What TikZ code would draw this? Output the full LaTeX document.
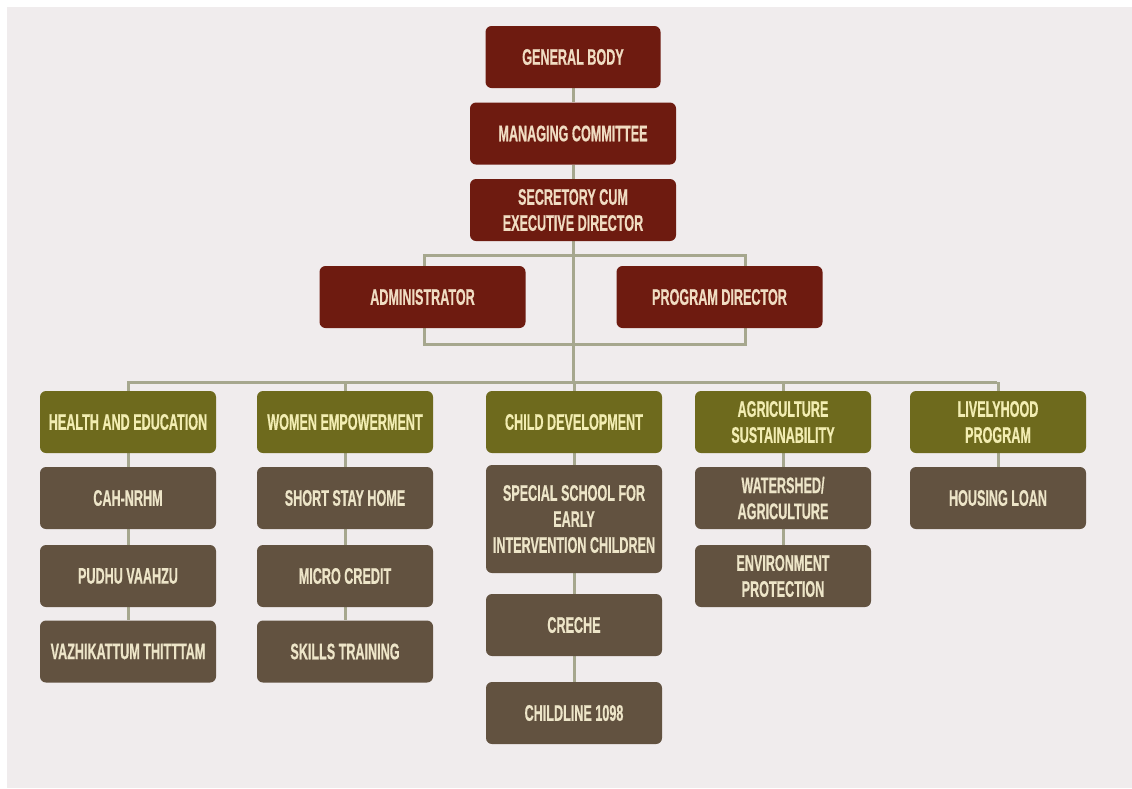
\documentclass[tikz,border=0pt]{standalone}
\usepackage{fontspec}
\usetikzlibrary{backgrounds}
\newfontfamily\orgfont{Liberation Sans}[FakeStretch=0.56, BoldFeatures={FakeBold=0.6}]
\definecolor{bgcol}{HTML}{F0ECED}
\definecolor{orgred}{HTML}{6E1B10}
\definecolor{orgolive}{HTML}{6E6A1D}
\definecolor{orgbrown}{HTML}{625240}
\definecolor{redtext}{HTML}{F0DCC2}
\definecolor{olivetext}{HTML}{F2EDB2}
\definecolor{browntext}{HTML}{EDE5C8}
\definecolor{linkcol}{HTML}{A6A78E}

\begin{document}
\begin{tikzpicture}[x=1pt, y=-1pt]
\tikzset{box/.style = {rounded corners=6pt, minimum height=62pt, inner sep=0pt, align=center, font=\orgfont\bfseries\fontsize{22.5}{26}\selectfont}}
\tikzset{redbox/.style = {box, fill=orgred, text=redtext, minimum width=206pt}}
\tikzset{olivebox/.style = {box, fill=orgolive, text=olivetext, minimum width=176pt}}
\tikzset{brownbox/.style = {box, fill=orgbrown, text=browntext, minimum width=176pt}}
\tikzset{edge/.style = {draw=linkcol, line width=3pt}}
\useasboundingbox (0,0) rectangle (1132,788);

% top of the chart
\node[redbox, minimum width=175pt] (gb) at (573,57) {GENERAL BODY};
\node[redbox] (mc) at (573,133.5) {MANAGING COMMITTEE};
\node[redbox] (sec) at (573,210) {SECRETORY CUM\\EXECUTIVE DIRECTOR};
\node[redbox] (adm) at (422.5,297) {ADMINISTRATOR};
\node[redbox] (pd) at (719.5,297) {PROGRAM DIRECTOR};

% programs
\node[olivebox] (health) at (128,422) {HEALTH AND EDUCATION};
\node[olivebox] (women) at (345,422) {WOMEN EMPOWERMENT};
\node[olivebox] (child) at (574,422) {CHILD DEVELOPMENT};
\node[olivebox] (agri) at (783,422) {AGRICULTURE\\SUSTAINABILITY};
\node[olivebox] (live) at (998,422) {LIVELYHOOD\\PROGRAM};

% projects
\node[brownbox] (cah) at (128,498) {CAH-NRHM};
\node[brownbox] (pudhu) at (128,576) {PUDHU VAAHZU};
\node[brownbox] (vazhi) at (128,651.5) {VAZHIKATTUM THITTTAM};
\node[brownbox] (stay) at (345,498) {SHORT STAY HOME};
\node[brownbox] (micro) at (345,576) {MICRO CREDIT};
\node[brownbox] (skills) at (345,651.5) {SKILLS TRAINING};
\node[brownbox, minimum height=108pt] (school) at (574,519) {SPECIAL SCHOOL FOR\\EARLY\\INTERVENTION CHILDREN};
\node[brownbox] (creche) at (574,625) {CRECHE};
\node[brownbox] (childline) at (574,713) {CHILDLINE 1098};
\node[brownbox] (water) at (783,498) {WATERSHED/\\AGRICULTURE};
\node[brownbox] (env) at (783,576) {ENVIRONMENT\\PROTECTION};
\node[brownbox] (housing) at (998,498) {HOUSING LOAN};

\coordinate (bus) at (573,382);
\coordinate (busL) at (127,382);
\coordinate (busR) at (997,382);
\coordinate (brTL) at (424,255);
\coordinate (brBR) at (745,344);

\begin{scope}[on background layer]
\fill[white] (0,0) rectangle (1132,788);
\fill[bgcol] (7,7) rectangle (1132,788);
%edges
\draw[edge] (gb) -- (mc);
\draw[edge] (mc) -- (sec);
\draw[edge] (sec) -- (bus);
\draw[edge] (brTL) rectangle (brBR);
\draw[edge] (busL) -- (busR);
\draw[edge] (health.north) -- (health.north |- bus);
\draw[edge] (women.north) -- (women.north |- bus);
\draw[edge] (child.north) -- (child.north |- bus);
\draw[edge] (agri.north) -- (agri.north |- bus);
\draw[edge] (live.north) -- (live.north |- bus);
\draw[edge] (health) -- (cah);
\draw[edge] (cah) -- (pudhu);
\draw[edge] (pudhu) -- (vazhi);
\draw[edge] (women) -- (stay);
\draw[edge] (stay) -- (micro);
\draw[edge] (micro) -- (skills);
\draw[edge] (child) -- (school);
\draw[edge] (school) -- (creche);
\draw[edge] (creche) -- (childline);
\draw[edge] (agri) -- (water);
\draw[edge] (water) -- (env);
\draw[edge] (live) -- (housing);
\end{scope}

\end{tikzpicture}
\end{document}
